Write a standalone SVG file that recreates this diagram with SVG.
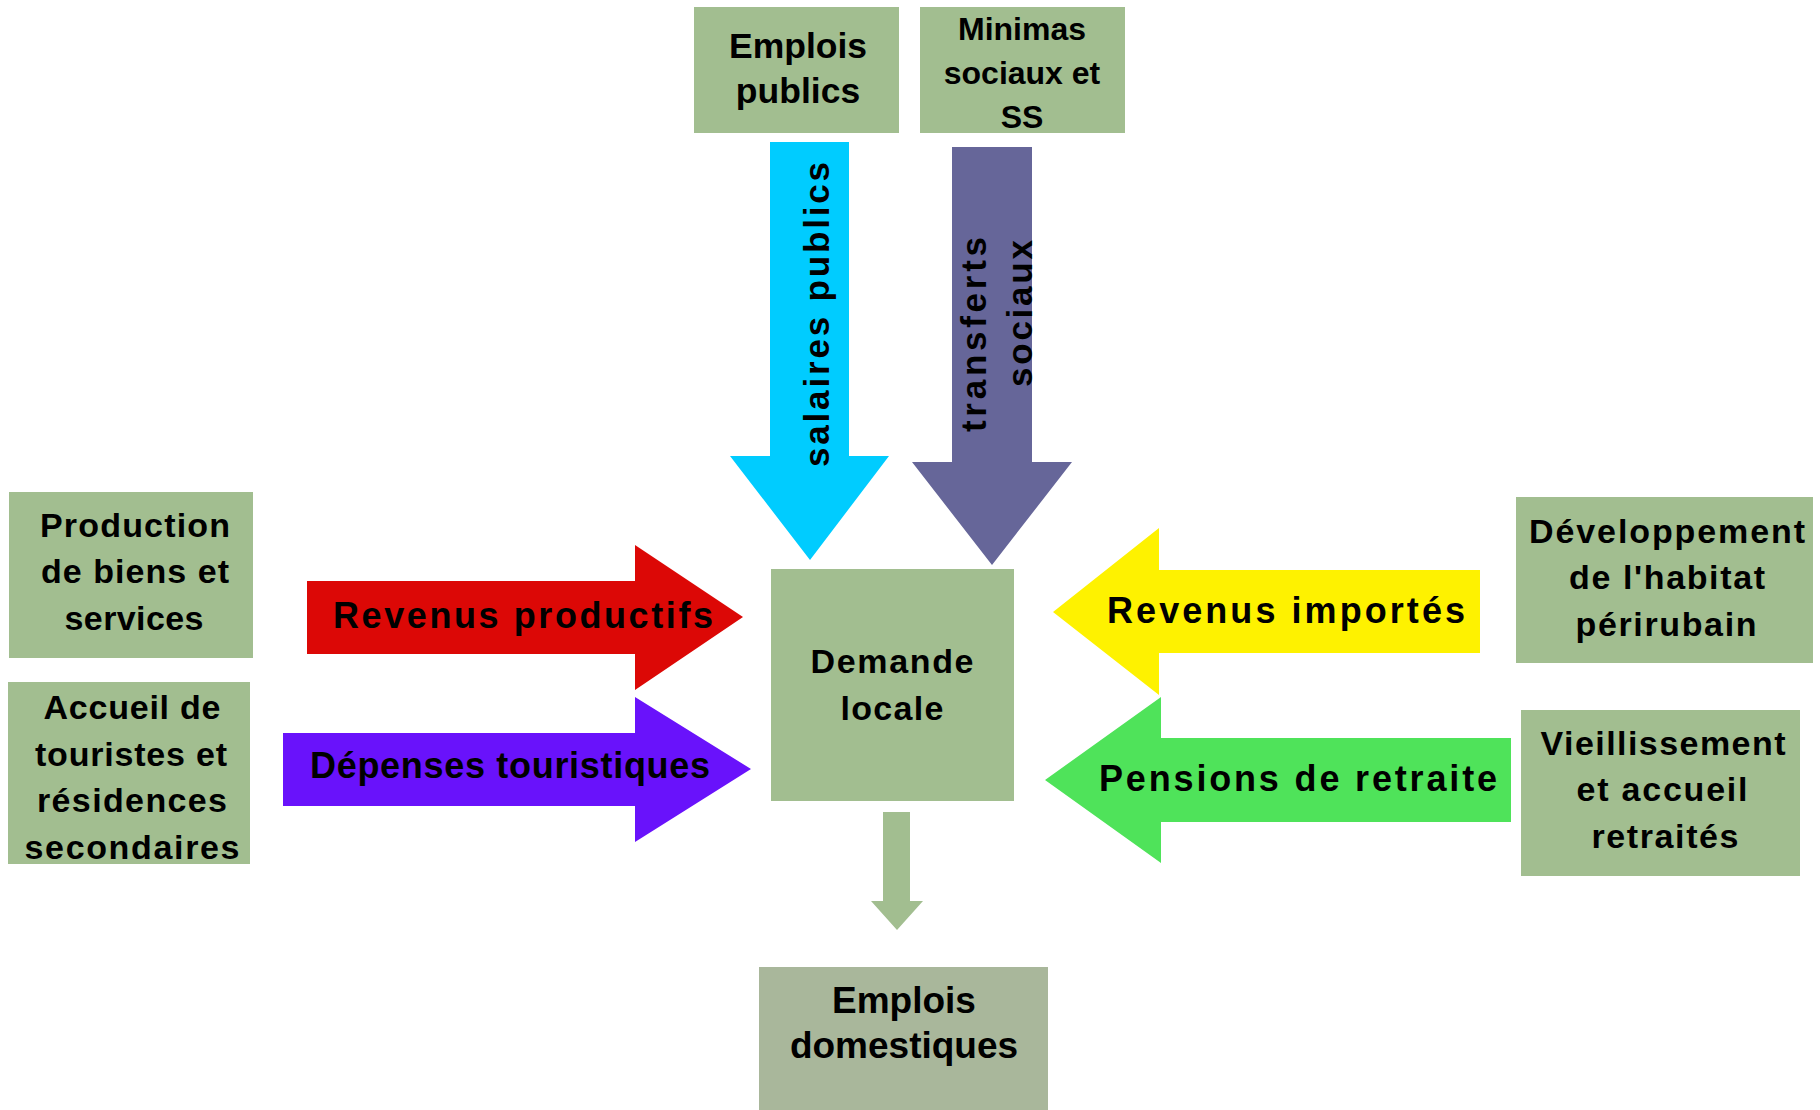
<svg xmlns="http://www.w3.org/2000/svg" width="1820" height="1110" viewBox="0 0 1820 1110">
<style>
text{font-family:"Liberation Sans",Arial,sans-serif;font-weight:bold;fill:#000}
.box{fill:#A2BE90}
.c{text-anchor:middle}
.f33{font-size:34px}
.fa{font-size:36px}
.f31{font-size:35px}
</style>
<rect width="1820" height="1110" fill="#fff"/>
<g id="connectors">
  <polygon id="arrow-salaires" points="770,142 849,142 849,456 889,456 810,560 730,456 770,456" fill="#00CCFF"/>
  <polygon id="arrow-transferts" points="952,147 1032,147 1032,462 1072,462 992,565 912,462 952,462" fill="#666699"/>
  <polygon id="arrow-revenus-productifs" points="307,581 635,581 635,545 743,617 635,690 635,654 307,654" fill="#DC0806"/>
  <polygon id="arrow-depenses" points="283,733 635,733 635,697 751,769 635,842 635,806 283,806" fill="#6912FB"/>
  <polygon id="arrow-revenus-importes" points="1480,570 1159,570 1159,528 1053,612 1159,695 1159,653 1480,653" fill="#FEF200"/>
  <polygon id="arrow-pensions" points="1511,738 1161,738 1161,697 1045,780 1161,863 1161,822 1511,822" fill="#4FE35A"/>
  <polygon id="arrow-domestiques" points="883,812 910,812 910,901 923,901 897,930 871,901 883,901" fill="#A2BE90"/>
  <text transform="translate(829,467) rotate(-90)" class="f31" textLength="305" lengthAdjust="spacing">salaires publics</text>
  <text transform="translate(986,432) rotate(-90)" class="f31" textLength="195" lengthAdjust="spacing">transferts</text>
  <text transform="translate(1032,387) rotate(-90)" class="f31" textLength="147" lengthAdjust="spacing">sociaux</text>
  <text x="523" y="628" class="c fa" textLength="380" lengthAdjust="spacing">Revenus productifs</text>
  <text x="510" y="778" class="c fa" textLength="400" lengthAdjust="spacing">Dépenses touristiques</text>
  <text x="1286" y="623" class="c fa" textLength="358" lengthAdjust="spacing">Revenus importés</text>
  <text x="1298" y="791" class="c fa" textLength="398" lengthAdjust="spacing">Pensions de retraite</text>
</g>
<g id="emplois-publics">
  <rect class="box" x="694" y="7" width="205" height="126"/>
  <text x="798" y="58" class="c" font-size="35.5">Emplois</text>
  <text x="798" y="103" class="c" font-size="35.5">publics</text>
</g>
<g id="minimas-sociaux">
  <rect class="box" x="920" y="7" width="205" height="126"/>
  <text x="1022" y="40" class="c" font-size="32">Minimas</text>
  <text x="1022" y="84" class="c" font-size="32">sociaux et</text>
  <text x="1022" y="128" class="c" font-size="32">SS</text>
</g>
<g id="production">
  <rect class="box" x="9" y="492" width="244" height="166"/>
  <text x="135" y="537" class="c f33" textLength="190" lengthAdjust="spacing">Production</text>
  <text x="135" y="583" class="c f33" textLength="188" lengthAdjust="spacing">de biens et</text>
  <text x="134" y="630" class="c f33" textLength="139" lengthAdjust="spacing">services</text>
</g>
<g id="accueil-touristes">
  <rect class="box" x="8" y="682" width="242" height="182"/>
  <text x="132" y="719" class="c f33" textLength="177" lengthAdjust="spacing">Accueil de</text>
  <text x="131" y="766" class="c f33" textLength="192" lengthAdjust="spacing">touristes et</text>
  <text x="132" y="812" class="c f33" textLength="190" lengthAdjust="spacing">résidences</text>
  <text x="132" y="859" class="c f33" textLength="215" lengthAdjust="spacing">secondaires</text>
</g>
<g id="demande-locale">
  <rect class="box" x="771" y="569" width="243" height="232"/>
  <text x="892" y="673" class="c f33" textLength="163" lengthAdjust="spacing">Demande</text>
  <text x="892" y="720" class="c f33" textLength="103" lengthAdjust="spacing">locale</text>
</g>
<g id="emplois-domestiques">
  <rect x="759" y="967" width="289" height="143" fill="#A9B79B"/>
  <text x="904" y="1013" class="c" font-size="37">Emplois</text>
  <text x="904" y="1058" class="c" font-size="37">domestiques</text>
</g>
<g id="developpement-habitat">
  <rect class="box" x="1516" y="497" width="297" height="166"/>
  <text x="1667" y="543" class="c f33" textLength="276" lengthAdjust="spacing">Développement</text>
  <text x="1667" y="589" class="c f33" textLength="196" lengthAdjust="spacing">de l'habitat</text>
  <text x="1666" y="636" class="c f33" textLength="181" lengthAdjust="spacing">périrubain</text>
</g>
<g id="vieillissement">
  <rect class="box" x="1521" y="710" width="279" height="166"/>
  <text x="1663" y="755" class="c f33" textLength="245" lengthAdjust="spacing">Vieillissement</text>
  <text x="1662" y="801" class="c f33" textLength="171" lengthAdjust="spacing">et accueil</text>
  <text x="1665" y="848" class="c f33" textLength="147" lengthAdjust="spacing">retraités</text>
</g>
</svg>
